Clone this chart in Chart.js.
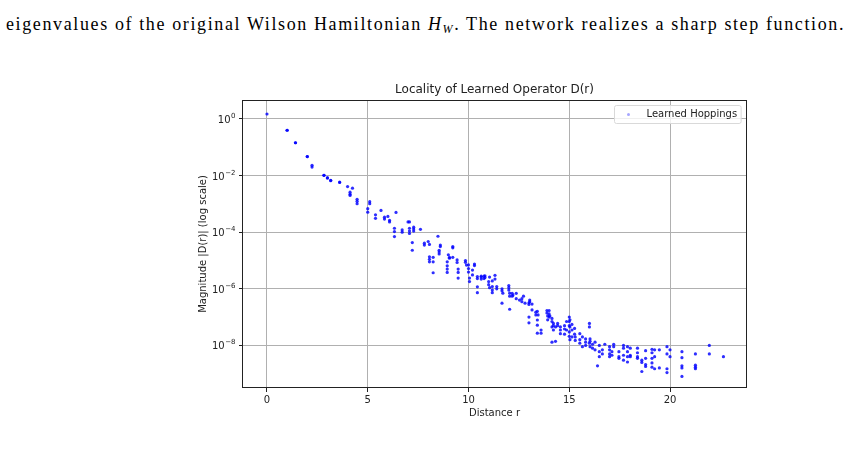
<!DOCTYPE html>
<html>
<head>
<meta charset="utf-8">
<script src="https://cdn.jsdelivr.net/npm/chart.js@4.4.1/dist/chart.umd.min.js"></script>
<style>
html, body { margin: 0; padding: 0; background: #fff; }
body { width: 864px; height: 467px; position: relative; overflow: hidden; }
#caption {
    position: absolute; left: 6px; top: 16px; line-height: 16px;
    font-family: "Liberation Serif", serif; font-size: 18px;
    white-space: nowrap; color: #000;
}
#caption sub { font-size: 12px; vertical-align: -3px; line-height: 0; }
#localityChart { position: absolute; left: 0; top: 0; }
</style>
</head>
<body>
<div id="caption">eigenvalues of the original Wilson Hamiltonian <i>H</i><sub><i>W</i></sub>. The network realizes a sharp step function.</div>
<canvas id="localityChart" width="864" height="467"></canvas>
<script>
// distance r on the lattice, and the |D(r)| values found at that distance
const distances = [
    0, 1.0, 1.414, 2.0, 2.236, 2.828, 3.0, 3.162, 3.606, 4.0,
    4.123, 4.243, 4.472, 5.0, 5.099, 5.385, 5.657, 5.831, 6.0, 6.083,
    6.325, 6.403, 6.708, 7.0, 7.071, 7.211, 7.28, 7.616, 7.81, 8.0,
    8.062, 8.246, 8.485, 8.544, 8.602, 8.944, 9.0, 9.055, 9.22, 9.434,
    9.487, 9.849, 9.899, 10.0, 10.05, 10.198, 10.296, 10.44, 10.63, 10.77,
    10.817, 11.0, 11.045, 11.18, 11.314, 11.402, 11.662, 11.705, 12.0, 12.042,
    12.166, 12.207, 12.369, 12.53, 12.649, 12.728, 12.806, 13.0, 13.038, 13.153,
    13.342, 13.416, 13.454, 13.601, 13.892, 13.928, 14.0, 14.036, 14.142, 14.213,
    14.318, 14.422, 14.56, 14.765, 14.866, 15.0, 15.033, 15.133, 15.264, 15.297,
    15.524, 15.652, 15.811, 16.0, 16.031, 16.155, 16.279, 16.401, 16.492, 16.643,
    16.763, 17.0, 17.117, 17.205, 17.464, 17.692, 17.889, 18.028, 18.385, 18.601,
    18.788, 19.105, 19.235, 19.47, 19.849, 20.0, 20.591, 21.26, 21.95, 22.65
];
const magnitudes = [
    [1.5], [0.40, 0.40], [0.145, 0.145], [0.047, 0.047], [0.023, 0.020],
    [0.0102, 0.0102], [0.0083, 0.0083], [0.0068, 0.0066], [0.0059, 0.0057], [0.0041],
    [0.0026, 0.0022, 0.0020], [0.0036], [0.00145, 0.00123, 0.00102], [6.8e-4, 5.1e-4], [1.2e-3, 1.02e-3],
    [4.1e-4, 3.1e-4], [5.9e-4], [3.4e-4, 2.9e-4], [3.6e-4], [2.6e-4, 2.3e-4],
    [1.38e-4, 1.05e-4, 7e-5], [5.0e-4], [1.2e-4, 1.0e-4], [2.3e-4], [2.3e-4, 1.38e-4, 1.1e-4, 9e-5],
    [4.3e-5, 2.3e-5], [1.5e-4, 1.3e-4, 1.1e-4], [1.26e-4], [4.1e-5, 3.5e-5], [4.7e-5],
    [3.7e-5, 1.35e-5, 1.1e-5, 9e-6], [1.3e-5, 9e-6, 3.7e-6], [7.2e-5], [2.3e-5, 2.0e-5, 1.7e-5], [3.5e-5, 3.1e-5],
    [9e-6, 6.5e-6, 5e-6, 3.8e-6], [1.6e-5], [1.3e-5, 1.2e-5], [3.1e-5, 2.8e-5, 1.3e-5], [1.05e-5, 8.5e-6],
    [5e-6, 3.8e-6, 2.4e-6], [1.0e-5, 8.6e-6], [6.9e-6], [7e-6, 5.2e-6, 3.9e-6], [2.4e-6, 1.8e-6],
    [4.6e-6, 3.1e-6], [7.5e-6, 6.6e-6], [2.7e-6, 2.3e-6, 1.18e-6, 7.3e-7], [2.8e-6, 2.6e-6, 2.2e-6], [2.8e-6, 2.3e-6],
    [2.9e-6, 2.5e-6], [1.8e-6, 1.4e-6], [2.6e-6, 1.1e-6], [1.9e-6, 1.2e-6, 9e-7, 7.3e-7], [3.0e-6, 2.2e-6],
    [1.2e-6, 1.0e-6], [1.0e-6, 8.5e-7, 3.1e-7], [7e-7], [1.3e-6, 1.1e-6, 9e-7], [7e-7, 5.5e-7, 1.9e-7],
    [6.9e-7, 5.5e-7], [6.0e-7], [4.5e-7, 6.9e-7], [4.0e-7], [4.5e-7, 3.5e-7],
    [5.5e-7], [3.1e-7], [3.2e-7, 2.8e-7, 1.0e-7, 6.3e-8], [4e-7, 3.5e-7], [2.9e-7, 1.8e-7],
    [1.5e-7, 1.2e-7], [1.6e-7, 7.9e-8, 5.2e-8, 2.7e-8], [1.2e-7], [3.5e-8, 2.7e-8], [1.7e-7, 1.4e-7],
    [1.1e-7, 8e-8], [1.7e-7, 1.3e-7, 1.0e-7], [1.1e-7], [9e-8, 7e-8, 4.5e-8, 1.3e-8], [6e-8, 5e-8, 3.5e-8],
    [4.5e-8, 1.4e-8], [6e-8, 5e-8], [4.5e-8, 3.5e-8, 2.6e-8], [5e-8, 3.8e-8, 2.5e-8], [3.5e-8, 7e-8],
    [1.0e-7, 7e-8, 5e-8, 3e-8, 2.1e-8], [8e-8, 4.5e-8, 1.6e-8], [5.5e-8, 3.5e-8, 2.0e-8], [4e-8, 2.5e-8], [2.0e-8, 1.5e-8],
    [2.6e-8, 1.6e-8, 1.2e-8], [2.0e-8, 9e-9], [1.7e-8, 1.3e-8, 1.0e-8], [6e-8, 4.5e-8, 1.2e-8], [1.7e-8, 1.4e-8, 9e-9],
    [1.1e-8, 8e-9], [1.3e-8, 7e-9], [1.9e-9], [1.0e-8, 6e-9, 4e-9], [7e-9, 5e-9],
    [1.1e-8], [9e-9, 7e-9, 5e-9, 4e-9], [6e-9, 4.5e-9], [1.1e-8, 9e-9], [6e-9, 4e-9, 3.5e-9],
    [1.0e-8, 8e-9, 4.5e-9, 3e-9], [9e-9, 6e-9, 4e-9, 2.6e-9], [8e-9, 4.5e-9, 4e-9], [8e-9, 5.5e-9, 4e-9, 3.5e-9], [3e-9, 2.5e-9, 1.2e-9],
    [6.5e-9, 3.5e-9, 2.1e-9, 1.8e-9], [7.3e-9, 5.5e-9, 3.5e-9, 2.4e-9, 1.7e-9], [7e-9, 4e-9, 1.5e-9], [7e-9, 1.6e-9], [9e-9, 5e-9, 1.5e-9, 1.1e-9],
    [4e-9, 7e-9], [6e-9, 3.7e-9, 1.9e-9, 1.6e-9, 8e-10], [5e-9, 2.0e-9, 1.7e-9, 1.5e-9], [1.0e-8, 5e-9], [4e-9]
];
const xTicks = [0, 5, 10, 15, 20];
const yTicks = [1e0, 1e-2, 1e-4, 1e-6, 1e-8];

const points = distances.flatMap((r, i) => magnitudes[i].map(m => ({ x: r, y: m })));

// stretch the caption line to the width it has in the page
const caption = document.getElementById('caption');
const captionWidth = caption.getBoundingClientRect().width;
caption.style.letterSpacing = ((839 - captionWidth) / caption.textContent.length) + 'px';

Chart.defaults.font.family = '"DejaVu Sans", sans-serif';
Chart.defaults.color = '#222';

const frameAndLegend = {
    id: 'frameAndLegend',
    afterDatasetsDraw(chart) {
        const { ctx, chartArea } = chart;
        ctx.save();
        ctx.strokeStyle = '#222';
        ctx.lineWidth = 1;
        ctx.strokeRect(Math.round(chartArea.left) - 0.5, Math.round(chartArea.top) + 0.5,
            Math.round(chartArea.width) + 1, Math.round(chartArea.height) - 1);
        ctx.restore();
    },
    afterDraw(chart) {
        const { ctx, chartArea } = chart;

        // y tick labels as 10 with a raised exponent, like mathtext
        const yScale = chart.scales.y;
        ctx.save();
        ctx.fillStyle = '#222';
        ctx.textBaseline = 'alphabetic';
        ctx.textAlign = 'left';
        yTicks.forEach(v => {
            const py = yScale.getPixelForValue(v);
            const exp = String(Math.round(Math.log10(v))).replace('-', '\u2212');
            ctx.font = '7px "DejaVu Sans"';
            const ew = ctx.measureText(exp).width;
            ctx.font = '10px "DejaVu Sans"';
            const bw = ctx.measureText('10').width;
            const right = chartArea.left - 8;
            const x0 = right - ew - bw;
            ctx.fillText('10', x0, py + 4);
            ctx.font = '7px "DejaVu Sans"';
            ctx.fillText(exp, x0 + bw + 0.5, py - 1);
        });
        ctx.restore();

        const label = chart.data.datasets[0].label;
        ctx.save();
        ctx.font = '10px "DejaVu Sans"';
        const w = ctx.measureText(label).width + 36;
        const h = 18;
        const x = Math.round(chartArea.right - 5 - w) + 0.5;
        const y = Math.round(chartArea.top + 5) + 0.5;
        ctx.beginPath();
        ctx.roundRect(x, y, w, h, 2);
        ctx.fillStyle = 'rgba(255,255,255,0.8)';
        ctx.fill();
        ctx.strokeStyle = '#d9d9d9';
        ctx.stroke();
        ctx.beginPath();
        ctx.arc(x + 14, y + h / 2, 1.5, 0, Math.PI * 2);
        ctx.fillStyle = 'rgba(0,0,255,0.35)';
        ctx.fill();
        ctx.fillStyle = '#222';
        ctx.textBaseline = 'middle';
        ctx.fillText(label, x + 32, y + h / 2);
        ctx.restore();
    }
};

const ctxLocality = document.getElementById('localityChart').getContext('2d');

const localityChart = new Chart(ctxLocality, {
    type: 'scatter',
    data: {
        datasets: [{
            label: 'Learned Hoppings',
            data: points,
            backgroundColor: 'rgba(0,0,255,0.82)',
            borderWidth: 0,
            pointRadius: 1.6,
            pointHoverRadius: 1.6
        }]
    },
    options: {
        responsive: false,
        animation: false,
        devicePixelRatio: 1,
        layout: { padding: { left: 193, right: 118, top: 79.6, bottom: 39 } },
        scales: {
            x: {
                type: 'linear',
                min: -1.19,
                max: 23.77,
                afterBuildTicks: s => { s.ticks = xTicks.map(v => ({ value: v })); },
                afterFit: s => { s.height = 40; },
                ticks: { font: { size: 10 }, padding: 2, maxRotation: 0 },
                grid: { color: '#b0b0b0', lineWidth: 1, tickColor: '#222', tickLength: 4 },
                border: { display: false },
                title: { display: true, text: 'Distance r', font: { size: 10 }, padding: { top: 0, bottom: 9 } }
            },
            y: {
                type: 'logarithmic',
                min: 3.13e-10,
                max: 4.69,
                afterBuildTicks: s => { s.ticks = yTicks.map(v => ({ value: v })); },
                afterFit: s => { s.width = 50; },
                ticks: { display: false },
                grid: { color: '#b0b0b0', lineWidth: 1, tickColor: '#222', tickLength: 4 },
                border: { display: false },
                title: { display: true, text: 'Magnitude |D(r)| (log scale)', font: { size: 10 }, padding: { top: 4, bottom: 0 } }
            }
        },
        plugins: {
            title: {
                display: true,
                fullSize: false,
                text: 'Locality of Learned Operator D(r)',
                font: { size: 12, weight: 'normal' },
                padding: { top: 3, bottom: 3 }
            },
            legend: { display: false },
            tooltip: { enabled: false }
        }
    },
    plugins: [frameAndLegend]
});
</script>
</body>
</html>
